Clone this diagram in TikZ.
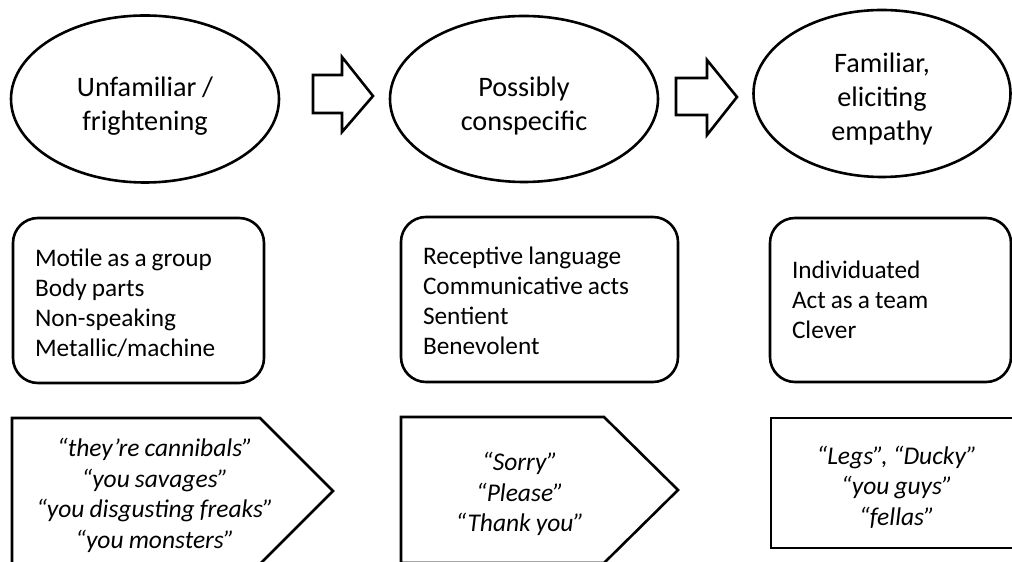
\documentclass[tikz,border=0pt]{standalone}
\usepackage{fontspec}
\setmainfont{Carlito}
\usetikzlibrary{shapes.geometric}
\newcommand{\tightspace}{\spaceskip=0.2em plus 0.1em minus 0.05em\relax}
\begin{document}
\begin{tikzpicture}[x=1pt,y=1pt,
  line width=2.6pt,
  oval/.style={draw, ellipse, inner sep=0pt},
  ovaltext/.style={align=center, inner sep=0pt, font=\fontsize{28.2}{34}\selectfont\tightspace},
  listbox/.style={draw, rounded corners=25pt, inner sep=0pt},
  listtext/.style={anchor=west, inner sep=0pt, align=left, font=\fontsize{25.3}{30}\selectfont\tightspace},
  quotetext/.style={align=center, font=\itshape\fontsize{25.5}{30.5}\selectfont\tightspace},
  blockarrow/.style={draw, line join=miter}
]
\useasboundingbox (0,0) rectangle (1012,562);
\clip (0,0) rectangle (1012,562);

% top row: ellipses
\node[oval, minimum width=268pt, minimum height=167pt] (e1) at (145,463) {};
\node[oval, minimum width=268pt, minimum height=166pt] (e2) at (524,463) {};
\node[oval, minimum width=257pt, minimum height=167pt] (e3) at (882,468.5) {};
\node[ovaltext] (t1) at ([yshift=-7pt]e1.center) {Unfamiliar /\\frightening};
\node[ovaltext] (t2) at ([yshift=-7pt]e2.center) {Possibly\\conspecific};
\node[ovaltext] (t3) at ([yshift=-5pt]e3.center) {Familiar,\\eliciting\\empathy};

% block arrows
\draw[blockarrow] (313,487) -- (342,487) -- (342,505) -- (373,466) -- (342,430) -- (342,449) -- (313,449) -- cycle;
\draw[blockarrow] (676,484) -- (707,484) -- (707,502) -- (737,465) -- (707,427) -- (707,447) -- (676,447) -- cycle;

% middle row: rounded boxes
\node[listbox, minimum width=251pt, minimum height=165pt] (b1) at (138.5,261.5) {};
\node[listbox, minimum width=277pt, minimum height=165pt] (b2) at (539.5,262.5) {};
\node[listbox, minimum width=241pt, minimum height=164pt] (b3) at (890.5,262) {};
\node[listtext] (l1) at ([xshift=22pt,yshift=-2.5pt]b1.west) {Motile as a group\\Body parts\\Non-speaking\\Metallic/machine};
\node[listtext] (l2) at ([xshift=22pt,yshift=-1.5pt]b2.west) {Receptive language\\Communicative acts\\Sentient\\Benevolent};
\node[listtext] (l3) at ([xshift=22pt,yshift=0pt]b3.west) {Individuated\\Act as a team\\Clever};

% bottom row: pentagons and rectangle
\draw (12,144) -- (260,144) -- (333,71) -- (260,-2) -- (12,-2) -- cycle;
\draw (401,145) -- (604,145) -- (678,72) -- (604,-1) -- (401,-1) -- cycle;
\draw (771,144) rectangle (1024,14);

\node[quotetext] (q1) at (155,66.5) {“they’re cannibals”\\“you savages”\\“you disgusting freaks”\\“you monsters”};
\node[quotetext] (q2) at (520,68) {“Sorry”\\“Please”\\“Thank you”};
\node[quotetext] (q3) at (897,75) {“Legs”, “Ducky”\\“you guys”\\“fellas”};
\end{tikzpicture}
\end{document}
